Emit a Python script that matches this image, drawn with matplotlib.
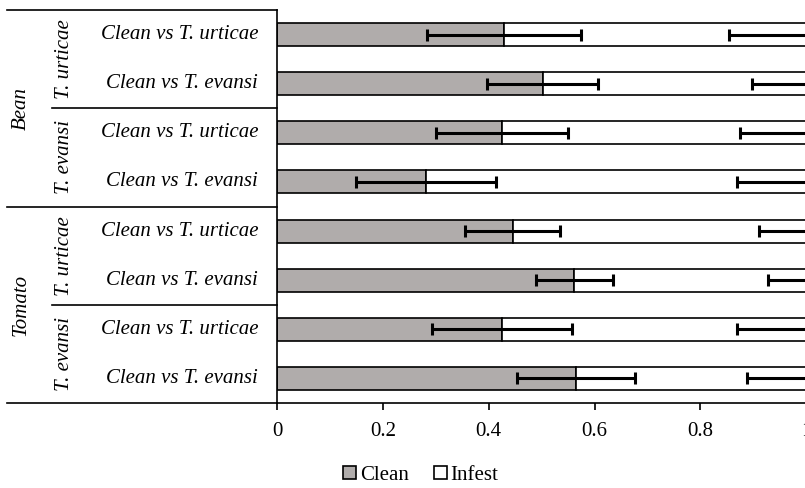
import matplotlib.pyplot as plt
from matplotlib.patches import Patch
from matplotlib.transforms import blended_transform_factory

plt.rcParams['font.family'] = ['Liberation Serif', 'DejaVu Serif']

# Data, top to bottom
hosts = ['Bean', 'Tomato']
inducers = ['T. urticae', 'T. evansi', 'T. urticae', 'T. evansi']
tests = ['Clean vs T. urticae', 'Clean vs T. evansi'] * 4
clean = [0.429, 0.502, 0.425, 0.281, 0.445, 0.562, 0.425, 0.565]
infest = [0.571, 0.498, 0.575, 0.719, 0.555, 0.438, 0.575, 0.435]
clean_err = [0.146, 0.105, 0.125, 0.132, 0.090, 0.073, 0.133, 0.112]
infest_err = [0.146, 0.103, 0.124, 0.130, 0.088, 0.071, 0.130, 0.111]
xticks = [0, 0.2, 0.4, 0.6, 0.8, 1]
xticklabels = ['0', '0.2', '0.4', '0.6', '0.8', '1']

grey = '#B0ACAB'
W, H = 805, 488

fig = plt.figure(figsize=(W / 100, H / 100), dpi=100)
ax = fig.add_axes([277.3 / W, (H - 403) / H, (806 - 277.3) / W, 393 / H])

y = list(range(len(clean)))
ax.barh(y, clean, height=0.47, color=grey, edgecolor='black', linewidth=1.2)
ax.barh(y, infest, left=clean, height=0.47, color='white', edgecolor='black', linewidth=1.2)
ax.errorbar(clean, y, xerr=clean_err, fmt='none', ecolor='black',
            elinewidth=2.2, capsize=4, capthick=2.2)
ax.errorbar([c + i for c, i in zip(clean, infest)], y, xerr=infest_err, fmt='none',
            ecolor='black', elinewidth=2.2, capsize=4, capthick=2.2)

ax.set_xlim(0, 1)
ax.set_ylim(7.5, -0.5)
ax.set_xticks(xticks)
ax.set_xticklabels(xticklabels, fontsize=15)
ax.tick_params(axis='x', direction='out', length=5, width=1.2, pad=9)
ax.set_yticks([])
for s in ['top', 'right']:
    ax.spines[s].set_visible(False)
for s in ['left', 'bottom']:
    ax.spines[s].set_linewidth(1.2)

# category table on the left
tr = blended_transform_factory(fig.transFigure, ax.transData)
x0, x1, x2 = 7 / W, 52 / W, 277.3 / W
for yy, xs in [(-0.5, x0), (3.5, x0), (7.5, x0), (1.5, x1), (5.5, x1)]:
    ax.plot([xs, x2], [yy, yy], color='black', lw=1.2, transform=tr, clip_on=False)

for i, t in enumerate(tests):
    ax.text(258 / W, i, t, transform=tr, ha='right', va='center',
            fontsize=15, style='italic')
for j, t in enumerate(inducers):
    ax.text(64 / W, 2 * j + 0.5, t, transform=tr, ha='center', va='center',
            rotation=90, fontsize=15, style='italic')
for k, t in enumerate(hosts):
    ax.text(21 / W, 4 * k + 1.5, t, transform=tr, ha='center', va='center',
            rotation=90, fontsize=15, style='italic')

handles = [Patch(facecolor=grey, edgecolor='black', linewidth=1.2, label='Clean'),
           Patch(facecolor='white', edgecolor='black', linewidth=1.2, label='Infest')]
fig.legend(handles=handles, loc='center', bbox_to_anchor=(421 / W, 1 - 475 / H),
           ncol=2, frameon=False, fontsize=15, handlelength=0.6, handleheight=0.6,
           handletextpad=0.2, columnspacing=1.2, borderaxespad=0)

fig.savefig('out.png', dpi=100)
